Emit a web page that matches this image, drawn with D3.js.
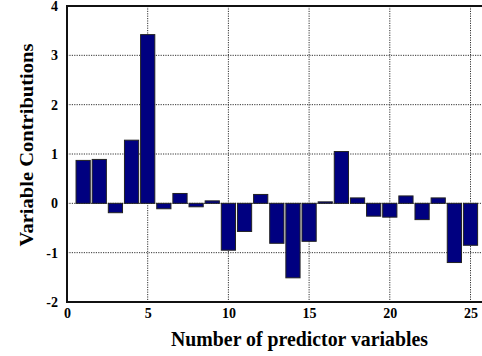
<!DOCTYPE html>
<html><head><meta charset="utf-8">
<script src="https://cdn.jsdelivr.net/npm/d3@7"></script>
<style>
html,body{margin:0;padding:0;background:#fff;}
svg text{font-family:"Liberation Serif","Times New Roman",serif;font-weight:bold;fill:#000;}
</style></head>
<body>
<svg id="c" width="482" height="356"></svg>
<script>
const predictors = [1,2,3,4,5,6,7,8,9,10,11,12,13,14,15,16,17,18,19,20,21,22,23,24,25];
const contributions = [0.87,0.89,-0.19,1.28,3.42,-0.11,0.20,-0.07,0.05,-0.95,-0.57,0.18,-0.81,-1.51,-0.77,0.03,1.05,0.11,-0.26,-0.28,0.15,-0.33,0.11,-1.20,-0.85];
const xTicks = [0,5,10,15,20,25];
const yTicks = [-2,-1,0,1,2,3,4];

const svg = d3.select("#c");
const W = 482, H = 356;
const x = d3.scaleLinear().domain([0,25]).range([67,470.5]);
const y = d3.scaleLinear().domain([-2,4]).range([302,6]);
const SERIF = '"Liberation Serif","Times New Roman",serif';

// grid
const g = svg.append("g");
g.selectAll(".vg").data(xTicks.filter(d=>d>0)).enter().append("line")
  .attr("x1",d=>x(d)).attr("x2",d=>x(d)).attr("y1",y(4)).attr("y2",y(-2))
  .attr("stroke","#333").attr("stroke-width",1).attr("stroke-dasharray","1.2,1.2");
g.selectAll(".hg").data(yTicks.filter(d=>d>-2 && d<4)).enter().append("line")
  .attr("x1",x(0)).attr("x2",W).attr("y1",d=>y(d)).attr("y2",d=>y(d))
  .attr("stroke","#333").attr("stroke-width",1).attr("stroke-dasharray","1.2,1.2");

// bars
const bw = 0.88;
svg.selectAll(".bar").data(predictors).enter().append("rect")
  .attr("x",(d)=>x(d-bw/2))
  .attr("width",x(bw)-x(0))
  .attr("y",(d,i)=>y(Math.max(0,contributions[i])))
  .attr("height",(d,i)=>Math.abs(y(contributions[i])-y(0)))
  .attr("fill","#000080").attr("stroke","#222").attr("stroke-width",1);

// frame
svg.append("line").attr("x1",x(0)).attr("x2",W).attr("y1",y(4)).attr("y2",y(4)).attr("stroke","#111").attr("stroke-width",2);
svg.append("line").attr("x1",x(0)).attr("x2",W).attr("y1",y(-2)).attr("y2",y(-2)).attr("stroke","#111").attr("stroke-width",2);
svg.append("line").attr("x1",x(0)).attr("x2",x(0)).attr("y1",y(4)-1).attr("y2",y(-2)+1).attr("stroke","#111").attr("stroke-width",2);

// axes (labels only, via d3 axis)
const fmt = d => String(d);
function styleAxis(sel){
  sel.attr("font-family",SERIF).attr("font-size",14).attr("font-weight","bold");
  sel.select(".domain").remove();
  sel.selectAll("text").style("font-family",SERIF).style("font-weight","bold").style("font-size","14px").style("fill","#000");
}
const xAxis = svg.append("g").attr("transform",`translate(0,${y(-2)})`)
  .call(d3.axisBottom(x).tickValues(xTicks).tickSize(0).tickPadding(5).tickFormat(fmt));
styleAxis(xAxis);
xAxis.selectAll("text").attr("dy","0.75em");
const yAxis = svg.append("g").attr("transform",`translate(${x(0)},0)`)
  .call(d3.axisLeft(y).tickValues(yTicks).tickSize(0).tickPadding(9).tickFormat(fmt));
styleAxis(yAxis);

// titles
svg.append("text").attr("x",299.5).attr("y",346).attr("text-anchor","middle")
  .attr("textLength",257).attr("lengthAdjust","spacingAndGlyphs")
  .style("font-size","20px").text("Number of predictor variables");
svg.append("text").attr("transform","translate(33,145) rotate(-90)").attr("text-anchor","middle")
  .attr("textLength",203).attr("lengthAdjust","spacingAndGlyphs")
  .style("font-size","18px").text("Variable Contributions");
</script>
</body></html>
